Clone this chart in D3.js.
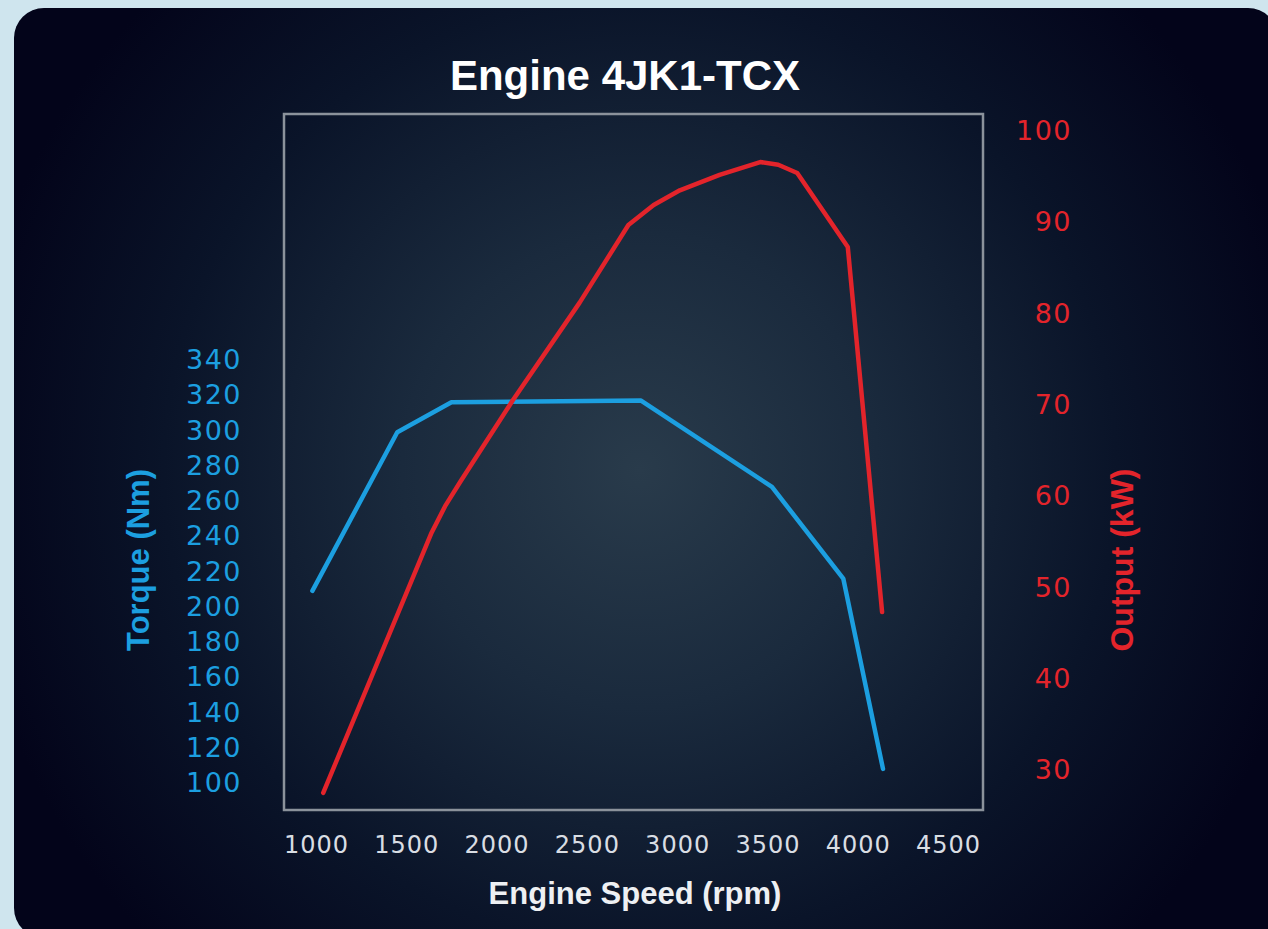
<!DOCTYPE html>
<html>
<head>
<meta charset="utf-8">
<script src="https://cdn.jsdelivr.net/npm/d3@7"></script>
<style>
  html, body { margin: 0; padding: 0; background: #cfe5ee; overflow: hidden; }
</style>
</head>
<body>
<div id="chart"></div>
<script>
// Engine 4JK1-TCX: torque (left axis) and output (right axis) vs engine speed
const width = 1268, height = 929;

// data
const rpmTicks = [1000, 1500, 2000, 2500, 3000, 3500, 4000, 4500];
const torqueTicks = [100, 120, 140, 160, 180, 200, 220, 240, 260, 280, 300, 320, 340];
const powerTicks = [30, 40, 50, 60, 70, 80, 90, 100];

const torqueRpm = [980, 1450, 1750, 2800, 3525, 3920, 4140];
const torqueNm  = [209, 299, 316, 317, 268, 216, 108];

const powerRpm = [1040, 1640, 1715, 1800, 2090, 2460, 2730, 2870, 3015, 3235, 3460, 3560, 3665, 3945, 4135];
const powerKw  = [27.5, 56.0, 58.9, 61.6, 70.5, 81.2, 89.7, 91.9, 93.5, 95.2, 96.6, 96.3, 95.4, 87.3, 47.3];

const blue = "#1c9fe0", red = "#e3242b";
const frame = {left: 284, top: 114, right: 983, bottom: 810};

const svg = d3.select("#chart").append("svg")
  .attr("width", width).attr("height", height);

// dark panel with a soft radial glow in the middle
const defs = svg.append("defs");
const glow = defs.append("radialGradient").attr("id", "glow")
  .attr("gradientUnits", "userSpaceOnUse")
  .attr("cx", 640).attr("cy", 470).attr("r", 680);
glow.selectAll("stop").data([
  {o: 0, c: "#293b4b"},
  {o: 0.35, c: "#1a2a3d"},
  {o: 0.7, c: "#0a1429"},
  {o: 1, c: "#03041a"}
]).join("stop").attr("offset", d => d.o).attr("stop-color", d => d.c);

svg.append("rect").attr("width", width).attr("height", height).attr("fill", "#cfe5ee");
svg.append("rect")
  .attr("x", 14).attr("y", 8).attr("width", 1264).attr("height", 930)
  .attr("rx", 30).attr("fill", "url(#glow)");

// scales
const x = d3.scaleLinear().domain([1000, 4500]).range([316, 948]);
const yT = d3.scaleLinear().domain([100, 340]).range([783, 360]);
const yP = d3.scaleLinear().domain([30, 100]).range([770, 131]);

// plot frame
svg.append("rect")
  .attr("x", frame.left).attr("y", frame.top)
  .attr("width", frame.right - frame.left).attr("height", frame.bottom - frame.top)
  .attr("fill", "none").attr("stroke", "#8b929b").attr("stroke-width", 2.5);

// axes (labels only)
const tickFont = "'DejaVu Sans', sans-serif";

const gx = svg.append("g").attr("transform", `translate(0,${frame.bottom})`)
  .call(d3.axisBottom(x).tickValues(rpmTicks).tickSize(0).tickPadding(26).tickFormat(d3.format("d")));
gx.select(".domain").remove();
gx.selectAll("text").attr("fill", "#d9dde3").style("font-family", tickFont)
  .style("font-size", "24px").style("letter-spacing", "1px");

const gl = svg.append("g").attr("transform", `translate(${frame.left},0)`)
  .call(d3.axisLeft(yT).tickValues(torqueTicks).tickSize(0).tickPadding(42));
gl.select(".domain").remove();
gl.selectAll("text").attr("fill", blue).style("font-family", tickFont)
  .style("font-size", "27px").style("letter-spacing", "1.5px");

const gr = svg.append("g").attr("transform", `translate(${frame.right},0)`)
  .call(d3.axisRight(yP).tickValues(powerTicks).tickSize(0));
gr.select(".domain").remove();
gr.selectAll("text").attr("fill", red).attr("x", 89).attr("text-anchor", "end")
  .style("font-family", tickFont).style("font-size", "27px").style("letter-spacing", "1.5px");

// titles
const titleFont = "'Liberation Sans', Arial, sans-serif";
svg.append("text").text("Engine 4JK1-TCX")
  .attr("x", 625).attr("y", 90).attr("text-anchor", "middle")
  .attr("fill", "#ffffff").style("font-family", titleFont)
  .style("font-weight", "bold").style("font-size", "42px");

svg.append("text").text("Engine Speed (rpm)")
  .attr("x", 635).attr("y", 904).attr("text-anchor", "middle")
  .attr("fill", "#eef0f3").style("font-family", titleFont)
  .style("font-weight", "bold").style("font-size", "31px");

svg.append("text").text("Torque (Nm)")
  .attr("transform", "translate(149,560) rotate(-90)").attr("text-anchor", "middle")
  .attr("fill", blue).style("font-family", titleFont)
  .style("font-weight", "bold").style("font-size", "31px");

svg.append("text").text("Output (kW)")
  .attr("transform", "translate(1133,560) rotate(-90)").attr("text-anchor", "middle")
  .attr("fill", red).style("font-family", titleFont)
  .style("font-weight", "bold").style("font-size", "32px");

// curves
const torqueLine = d3.line().x((d, i) => x(torqueRpm[i])).y(d => yT(d));
const powerLine = d3.line().x((d, i) => x(powerRpm[i])).y(d => yP(d));

svg.append("path").attr("d", torqueLine(torqueNm))
  .attr("fill", "none").attr("stroke", blue).attr("stroke-width", 4.5)
  .attr("stroke-linejoin", "round").attr("stroke-linecap", "round");

svg.append("path").attr("d", powerLine(powerKw))
  .attr("fill", "none").attr("stroke", red).attr("stroke-width", 4.5)
  .attr("stroke-linejoin", "round").attr("stroke-linecap", "round");
</script>
</body>
</html>
